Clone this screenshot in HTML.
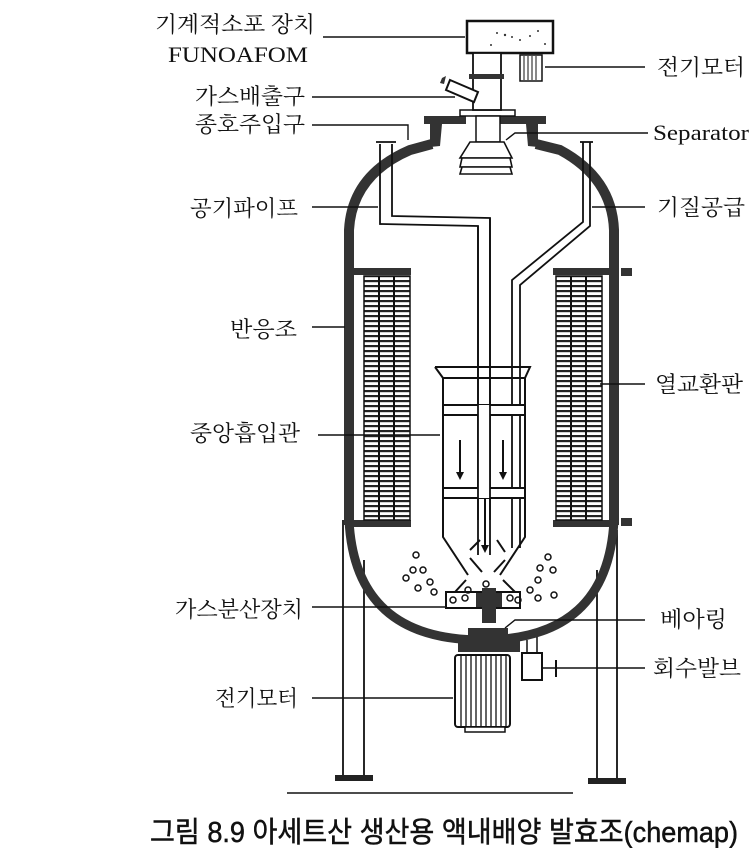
<!DOCTYPE html>
<html><head><meta charset="utf-8"><style>
html,body{margin:0;padding:0;background:#fff;}
svg{display:block;}
.l{font-family:"Liberation Serif","Noto Serif CJK KR","Noto Serif CJK SC",serif;font-size:22px;fill:#111;}
</style></head><body>
<svg width="749" height="848" viewBox="0 0 749 848" xmlns="http://www.w3.org/2000/svg">
<g stroke="#111" fill="none" stroke-width="1.8">
<line x1="343" y1="520" x2="343" y2="776"/><line x1="364" y1="560" x2="364" y2="776"/>
<line x1="597" y1="570" x2="597" y2="780"/><line x1="617" y1="530" x2="617" y2="780"/>
</g>
<rect x="335" y="775" width="38" height="6" fill="#222"/>
<rect x="588" y="778" width="38" height="6" fill="#222"/>
<line x1="287" y1="793" x2="573" y2="793" stroke="#111" stroke-width="1.5"/>

<path d="M349 525 L349 230 Q352 175 410 150 L432 144" stroke="#333" stroke-width="10" fill="none"/>
<path d="M614 525 L614 230 Q612 178 560 150 L536 144" stroke="#333" stroke-width="10" fill="none"/>
<path d="M349 520 Q355 640 482 640 Q608 640 614 520" stroke="#333" stroke-width="9" fill="none"/>
<path d="M424 116 L466 116 L466 124 L442 124 L440 146 L430 147 L430 124 L424 124 Z" fill="#333"/>
<path d="M500 116 L546 116 L546 124 L538 124 L538 147 L528 146 L526 124 L500 124 Z" fill="#333"/>
<rect x="460" y="110" width="55" height="6" fill="#fff" stroke="#111" stroke-width="1.5"/>
<rect x="476" y="116" width="24" height="26" fill="#fff" stroke="#111" stroke-width="1.5"/>
<g stroke="#111" stroke-width="1.6" fill="#fff">
<path d="M470 142 L504 142 L512 158 L460 158 Z"/>
<path d="M462 158 L510 158 L512 167 L460 167 Z"/>
<path d="M462 167 L510 167 L512 174 L460 174 Z"/>
</g>
<rect x="467" y="21" width="86" height="32" fill="#fff" stroke="#111" stroke-width="2.5"/>
<g fill="#333"><circle cx="497" cy="33" r="1"/><circle cx="505" cy="35" r="1.2"/><circle cx="512" cy="37" r="1"/><circle cx="520" cy="40" r="1"/><circle cx="538" cy="31" r="1"/><circle cx="545" cy="44" r="1"/><circle cx="491" cy="45" r="1"/><circle cx="530" cy="36" r="1"/></g>
<rect x="473" y="53" width="28" height="57" fill="#fff" stroke="#111" stroke-width="1.8"/>
<rect x="469" y="74" width="35" height="5" fill="#333"/>
<rect x="520" y="55" width="22" height="26" fill="#fff" stroke="#111" stroke-width="1.5"/>
<g stroke="#111" stroke-width="1"><line x1="524" y1="56" x2="524" y2="80"/><line x1="528" y1="56" x2="528" y2="80"/><line x1="532" y1="56" x2="532" y2="80"/><line x1="536" y1="56" x2="536" y2="80"/></g>
<path d="M450 80 L478 92 L474 102 L446 90 Z" fill="#fff" stroke="#111" stroke-width="2"/>
<path d="M442 78 L446 76 L444 84 L440 83 Z" fill="#333"/>
<g stroke="#111" stroke-width="1.8" fill="none">
<path d="M380 144 L380 224 L478 226 L478 555"/>
<path d="M392 144 L392 216 L490 218 L490 555"/>
<line x1="376" y1="142" x2="396" y2="142"/>
<path d="M583 142 L583 222 L512 280 L512 548"/>
<path d="M590 142 L590 226 L520 285 L520 548"/>
<line x1="580" y1="142" x2="593" y2="142"/>
</g>
<rect x="353" y="268" width="58" height="7" fill="#333"/>
<rect x="353" y="520" width="58" height="7" fill="#333"/>
<rect x="553" y="268" width="62" height="7" fill="#333"/>
<rect x="553" y="520" width="62" height="7" fill="#333"/>
<path d="M621 268 L632 268 L632 276 L621 276 Z M621 518 L632 518 L632 526 L621 526 Z" fill="#333"/>
<defs>
<pattern id="hz" width="10" height="5" patternUnits="userSpaceOnUse"><rect width="10" height="5" fill="#fff"/><rect y="0" width="10" height="2.2" fill="#222"/></pattern>
</defs>
<rect x="364" y="276" width="46" height="244" fill="url(#hz)" stroke="#111" stroke-width="1.5"/>
<rect x="556" y="276" width="46" height="244" fill="url(#hz)" stroke="#111" stroke-width="1.5"/>
<g stroke="#111" stroke-width="2"><line x1="379" y1="276" x2="379" y2="520"/><line x1="394" y1="276" x2="394" y2="520"/><line x1="571" y1="276" x2="571" y2="520"/><line x1="586" y1="276" x2="586" y2="520"/></g>
<g stroke="#111" stroke-width="2" fill="none">
<path d="M435 367 L530 367 L525 378 L525 537 L500 575"/>
<path d="M435 367 L443 378 L443 537 L468 575"/>
<line x1="443" y1="378" x2="525" y2="378"/>
<rect x="443" y="405" width="82" height="10" fill="#fff"/>
<rect x="443" y="488" width="82" height="10" fill="#fff"/>
<path d="M470 550 L480 540 M497 540 L505 552 M470 558 L482 572 M505 560 L494 572"/>
<path d="M466 580 L455 592 M503 580 L515 592"/>
<line x1="460" y1="440" x2="460" y2="475"/><line x1="503" y1="440" x2="503" y2="475"/>
<line x1="485" y1="495" x2="485" y2="545"/>
</g>
<rect x="478" y="405" width="12" height="93" fill="#fff"/>
<g stroke="#111" stroke-width="1.8"><line x1="478" y1="226" x2="478" y2="520"/><line x1="490" y1="218" x2="490" y2="520"/></g>
<g fill="#111"><path d="M456 472 L464 472 L460 480 Z"/><path d="M499 472 L507 472 L503 480 Z"/><path d="M481 545 L489 545 L485 553 Z"/></g>
<rect x="446" y="592" width="74" height="16" fill="#fff" stroke="#111" stroke-width="2"/>
<rect x="476" y="593" width="26" height="14" fill="#333"/>
<rect x="482" y="588" width="14" height="35" fill="#333"/>
<g fill="none" stroke="#111" stroke-width="1.5">
<circle cx="453" cy="600" r="3"/><circle cx="465" cy="598" r="3"/><circle cx="510" cy="598" r="3"/><circle cx="518" cy="600" r="3"/>
<circle cx="486" cy="584" r="3"/><circle cx="468" cy="590" r="3"/>
<circle cx="416" cy="555" r="3"/><circle cx="413" cy="570" r="3"/><circle cx="423" cy="570" r="3"/><circle cx="406" cy="578" r="3"/><circle cx="430" cy="582" r="3"/><circle cx="418" cy="588" r="3"/><circle cx="434" cy="592" r="3"/>
<circle cx="548" cy="557" r="3"/><circle cx="540" cy="568" r="3"/><circle cx="553" cy="570" r="3"/><circle cx="538" cy="580" r="3"/><circle cx="554" cy="595" r="3"/><circle cx="530" cy="590" r="3"/><circle cx="538" cy="598" r="3"/>
</g>
<rect x="468" y="628" width="40" height="10" fill="#333"/>
<rect x="458" y="637" width="62" height="15" fill="#333"/>
<rect x="455" y="655" width="55" height="72" rx="3" fill="#fff" stroke="#111" stroke-width="2"/>
<g stroke="#111" stroke-width="1.3"><line x1="461" y1="656" x2="461" y2="726"/><line x1="466" y1="656" x2="466" y2="726"/><line x1="471" y1="656" x2="471" y2="726"/><line x1="476" y1="656" x2="476" y2="726"/><line x1="481" y1="656" x2="481" y2="726"/><line x1="486" y1="656" x2="486" y2="726"/><line x1="491" y1="656" x2="491" y2="726"/><line x1="496" y1="656" x2="496" y2="726"/><line x1="501" y1="656" x2="501" y2="726"/><line x1="506" y1="656" x2="506" y2="726"/></g>
<rect x="465" y="727" width="40" height="5" fill="#fff" stroke="#111" stroke-width="1.5"/>
<path d="M527 640 L527 653 M537 637 L537 653" stroke="#111" stroke-width="1.5"/>
<rect x="522" y="653" width="20" height="27" fill="#fff" stroke="#111" stroke-width="2"/>
<line x1="542" y1="668" x2="645" y2="668" stroke="#111" stroke-width="1.5"/>
<line x1="556" y1="660" x2="556" y2="677" stroke="#111" stroke-width="2"/>
<g stroke="#111" stroke-width="1.4">
<line x1="323" y1="37" x2="465" y2="37"/>
<line x1="312" y1="97" x2="455" y2="97"/>
<polyline points="312,125 408,125 408,140" fill="none"/>
<line x1="312" y1="207" x2="378" y2="207"/>
<line x1="312" y1="327" x2="345" y2="327"/>
<line x1="318" y1="435" x2="440" y2="435"/>
<line x1="312" y1="607" x2="445" y2="607"/>
<line x1="312" y1="698" x2="453" y2="698"/>
<line x1="545" y1="67" x2="645" y2="67"/>
<polyline points="506,140 515,133 648,133" fill="none"/>
<line x1="592" y1="207" x2="645" y2="207"/>
<line x1="600" y1="384" x2="645" y2="384"/>
<polyline points="505,628 515,620 645,620" fill="none"/>
</g>
<g class="l">
<text x="155" y="32" textLength="160" lengthAdjust="spacingAndGlyphs">기계적소포 장치</text>
<text x="168" y="62" textLength="140" lengthAdjust="spacingAndGlyphs">FUNOAFOM</text>
<text x="195" y="104" textLength="110" lengthAdjust="spacingAndGlyphs">가스배출구</text>
<text x="195" y="132" textLength="110" lengthAdjust="spacingAndGlyphs">종호주입구</text>
<text x="190" y="216" textLength="108" lengthAdjust="spacingAndGlyphs">공기파이프</text>
<text x="230" y="337" textLength="67" lengthAdjust="spacingAndGlyphs">반응조</text>
<text x="190" y="441" textLength="110" lengthAdjust="spacingAndGlyphs">중앙흡입관</text>
<text x="175" y="617" textLength="128" lengthAdjust="spacingAndGlyphs">가스분산장치</text>
<text x="215" y="706" textLength="83" lengthAdjust="spacingAndGlyphs">전기모터</text>
<text x="657" y="75" textLength="88" lengthAdjust="spacingAndGlyphs">전기모터</text>
<text x="653" y="140" textLength="96" lengthAdjust="spacingAndGlyphs">Separator</text>
<text x="657" y="215" textLength="88" lengthAdjust="spacingAndGlyphs">기질공급</text>
<text x="655" y="392" textLength="88" lengthAdjust="spacingAndGlyphs">열교환판</text>
<text x="660" y="627" textLength="67" lengthAdjust="spacingAndGlyphs">베아링</text>
<text x="653" y="676" textLength="88" lengthAdjust="spacingAndGlyphs">회수발브</text>
</g>
<text x="150" y="842" textLength="588" lengthAdjust="spacingAndGlyphs" style="font-family:'Liberation Sans','Noto Sans CJK KR',sans-serif;font-size:29px;fill:#111;stroke:#111;stroke-width:0.5;">그림 8.9 아세트산 생산용 액내배양 발효조(chemap)</text>
</svg>
</body></html>
